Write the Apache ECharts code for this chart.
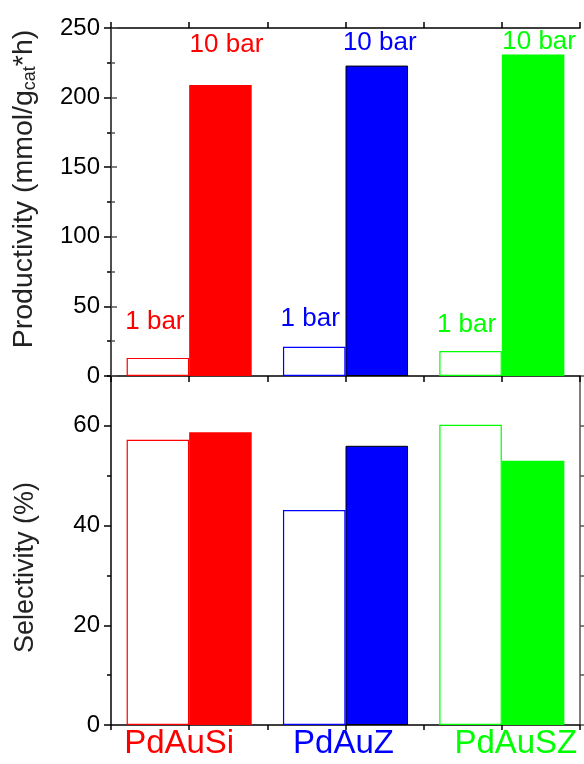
<!DOCTYPE html>
<html>
<head>
<meta charset="utf-8">
<script src="https://cdn.jsdelivr.net/npm/echarts@6/dist/echarts.min.js"></script>
<style>
html,body{margin:0;padding:0;background:#fff;}
#chart{width:584px;height:764px;}
</style>
</head>
<body>
<div id="chart"></div>
<script>
// ---- data ----
const categories = ['PdAuSi', 'PdAuZ', 'PdAuSZ'];
const pressureLabels = ['1 bar', '10 bar'];
const productivity1bar = [13, 21, 18];
const productivity10bar = [209, 223, 231];
const selectivity1bar = [57.2, 43.1, 60.2];
const selectivity10bar = [58.7, 56.0, 53.0];
const productivityTicks = [0, 50, 100, 150, 200, 250];
const selectivityTicks = [0, 20, 40, 60];

// ---- styling ----
const catColors = ['#ff0000', '#0000ff', '#00ff00'];
const label1Offsets = [[-3, -23], [-4, -15], [-4, -13]];
const label10Offsets = [[6, -27], [3, -10], [6, 0]];
const catLabelPad = [[0, 20, 0, 0], [0, 4, 0, 0], [0, 0, 0, 28]];
const FONT = 'Liberation Sans, Arial, sans-serif';

const chart = echarts.init(document.getElementById('chart'), null, {renderer: 'canvas'});

function hollow(values, withLabel) {
  return values.map((v, i) => ({
    value: v,
    itemStyle: {color: '#ffffff', borderColor: catColors[i], borderWidth: 1.2},
    label: withLabel ? {show: true, color: catColors[i], offset: label1Offsets[i]} : {show: false}
  }));
}
function filled(values, withLabel) {
  return values.map((v, i) => ({
    value: v,
    itemStyle: {color: catColors[i], borderColor: i === 1 ? '#000' : catColors[i], borderWidth: i === 1 ? 1 : 0},
    label: withLabel ? {show: true, color: catColors[i], offset: label10Offsets[i]} : {show: false}
  }));
}

const tickAxisCommon = {
  type: 'value', min: 0, max: 6, interval: 1,
  axisLine: {show: true, lineStyle: {color: '#000', width: 1.5}},
  axisTick: {show: true, inside: false, length: 6, lineStyle: {color: '#000', width: 1.5}},
  axisLabel: {show: false},
  splitLine: {show: false}
};

const labelStyle = {fontFamily: FONT, fontSize: 24, color: '#000'};

const rich = {};
categories.forEach((c, i) => {
  rich['c' + i] = {fontFamily: FONT, fontSize: 33, color: catColors[i], padding: catLabelPad[i]};
});

const option = {
  backgroundColor: '#fff',
  animation: false,
  grid: [
    {left: 111, right: 4, top: 28, height: 348},
    {left: 111, right: 4, top: 376, height: 349}
  ],
  xAxis: [
    {type: 'category', gridIndex: 0, data: categories, show: false},
    Object.assign({}, tickAxisCommon, {gridIndex: 0, position: 'bottom'}),
    Object.assign({}, tickAxisCommon, {gridIndex: 0, position: 'top'}),
    {type: 'category', gridIndex: 1, data: categories, position: 'bottom',
      axisLine: {show: false}, axisTick: {show: false}, splitLine: {show: false},
      axisLabel: {show: true, margin: 2, interval: 0,
        formatter: function (v, idx) { return '{c' + idx + '|' + v + '}'; },
        rich: rich}},
    Object.assign({}, tickAxisCommon, {gridIndex: 1, position: 'bottom',
      axisTick: {show: true, inside: false, length: 5, lineStyle: {color: '#000', width: 1.5}}})
  ],
  yAxis: [
    {type: 'value', gridIndex: 0, position: 'left',
      min: productivityTicks[0], max: productivityTicks[productivityTicks.length - 1], interval: 50,
      axisLine: {show: true, lineStyle: {color: '#000', width: 1.5}},
      axisTick: {show: true, inside: false, length: 7, lineStyle: {color: '#000', width: 1.5}},
      minorTick: {show: true, splitNumber: 2, length: 4, lineStyle: {color: '#000', width: 1.5}},
      splitLine: {show: false},
      axisLabel: Object.assign({margin: 11}, labelStyle),
      name: 'Productivity (mmol/g{sub|cat}*h)',
      nameLocation: 'middle', nameGap: 72,
      nameTextStyle: {fontFamily: FONT, fontSize: 28.5, color: '#222', padding: [0, 0, 0, 26],
        rich: {sub: {fontFamily: FONT, fontSize: 18, color: '#222', verticalAlign: 'bottom', lineHeight: 17}}}
    },
    {type: 'value', gridIndex: 0, position: 'right', min: 0, max: 250, interval: 50,
      axisLine: {show: true, lineStyle: {color: '#555', width: 1.5}},
      axisTick: {show: true, inside: false, length: 6, lineStyle: {color: '#555', width: 1.5}},
      minorTick: {show: true, splitNumber: 2, length: 4, lineStyle: {color: '#555', width: 1.5}},
      splitLine: {show: false}, axisLabel: {show: false}},
    {type: 'value', gridIndex: 1, position: 'left', min: 0, max: 70, interval: 20,
      axisLine: {show: true, lineStyle: {color: '#000', width: 1.5}},
      axisTick: {show: true, inside: false, length: 7, lineStyle: {color: '#000', width: 1.5}},
      splitLine: {show: false},
      axisLabel: Object.assign({margin: 11, showMaxLabel: false,
        formatter: function (v) { return selectivityTicks.indexOf(v) >= 0 ? String(v) : ''; }}, labelStyle),
      name: 'Selectivity (%)',
      nameLocation: 'middle', nameGap: 72,
      nameTextStyle: {fontFamily: FONT, fontSize: 27, color: '#222', padding: [0, 34, 0, 0]}
    },
    {type: 'value', gridIndex: 1, position: 'left', min: 0, max: 70, interval: 10,
      axisLine: {show: false},
      axisTick: {show: true, inside: false, length: 4, lineStyle: {color: '#000', width: 1.5}},
      splitLine: {show: false}, axisLabel: {show: false}},
    {type: 'value', gridIndex: 1, position: 'right', min: 0, max: 70, interval: 10,
      axisLine: {show: true, lineStyle: {color: '#555', width: 1.5}},
      axisTick: {show: true, inside: false, length: 5, lineStyle: {color: '#555', width: 1.5}},
      splitLine: {show: false}, axisLabel: {show: false}}
  ],
  series: [
    {name: pressureLabels[0], type: 'bar', xAxisIndex: 0, yAxisIndex: 0,
      barGap: '0%', barCategoryGap: '20%',
      label: {position: 'top', distance: 0, fontFamily: FONT, fontSize: 26, formatter: pressureLabels[0]},
      data: hollow(productivity1bar, true)},
    {name: pressureLabels[1], type: 'bar', xAxisIndex: 0, yAxisIndex: 0,
      barGap: '0%', barCategoryGap: '20%',
      label: {position: 'top', distance: 0, fontFamily: FONT, fontSize: 26, formatter: pressureLabels[1]},
      data: filled(productivity10bar, true)},
    {name: pressureLabels[0] + ' sel', type: 'bar', xAxisIndex: 3, yAxisIndex: 2,
      barGap: '0%', barCategoryGap: '20%',
      data: hollow(selectivity1bar, false)},
    {name: pressureLabels[1] + ' sel', type: 'bar', xAxisIndex: 3, yAxisIndex: 2,
      barGap: '0%', barCategoryGap: '20%',
      data: filled(selectivity10bar, false)}
  ]
};
chart.setOption(option);
</script>
</body>
</html>
